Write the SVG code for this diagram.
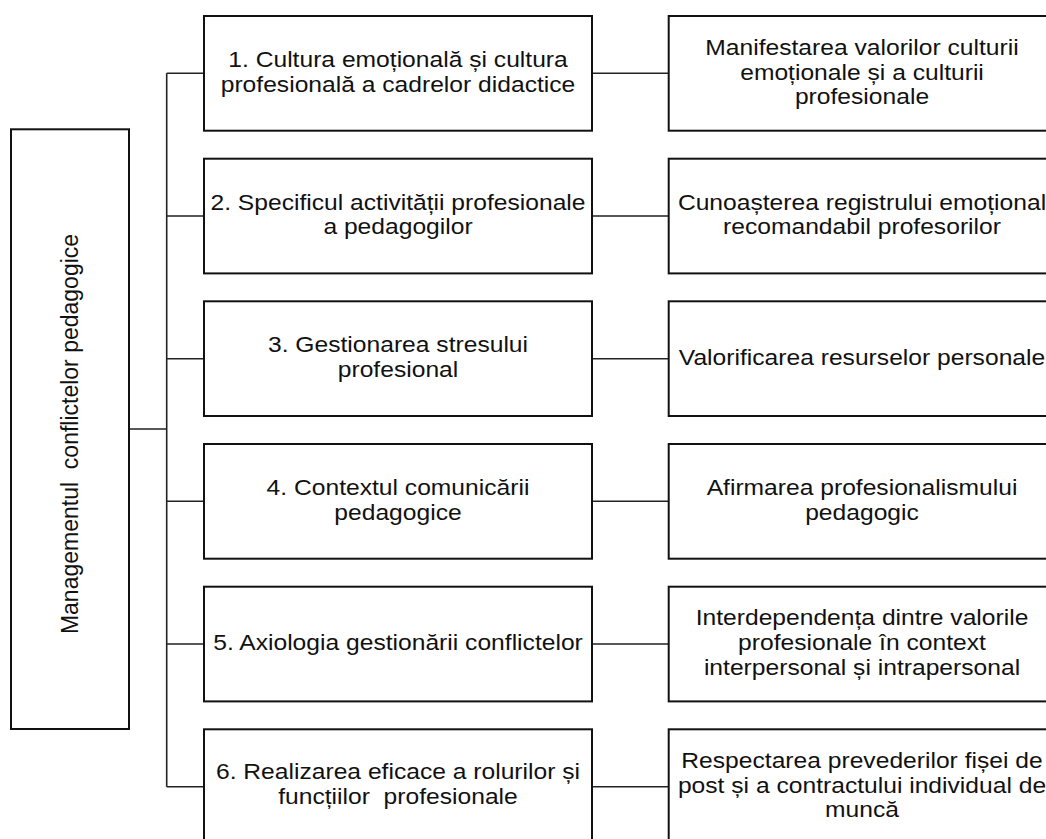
<svg xmlns="http://www.w3.org/2000/svg" width="1046" height="839" viewBox="0 0 1046 839">
<style>
.box{fill:#fff;stroke:#111;stroke-width:2}
.ln{fill:none;stroke:#222;stroke-width:1.6}
text{font-family:"Liberation Sans",Arial,sans-serif;font-size:22px;fill:#111;text-anchor:middle}
.v{font-size:23px}
</style>
<rect width="1046" height="839" fill="#fff"/>
<g id="connectors">
<path class="ln" d="M129,429H166.7M166.7,73.3V786.7M166.7,73.3H204M166.7,216H204M166.7,358.7H204M166.7,501.3H204M166.7,644H204M166.7,786.7H204"/>
<path class="ln" d="M592,73.3H668.7M592,216H668.7M592,358.7H668.7M592,501.3H668.7M592,644H668.7M592,786.7H668.7"/>
</g>
<g id="root">
<rect class="box" x="11" y="129.3" width="118" height="599.7"/>
<text class="v" transform="translate(78,434) rotate(-90)">Managementul&#160; conflictelor pedagogice</text>
</g>
<g id="m1"><rect class="box" x="204" y="16" width="388" height="114.7"/>
<g transform="translate(398,0) scale(1.12,1)"><text><tspan x="0" y="67">1. Cultura emoțională și cultura</tspan><tspan x="0" y="91.6">profesională a cadrelor didactice</tspan></text></g></g>
<g id="m2"><rect class="box" x="204" y="158.7" width="388" height="114.7"/>
<g transform="translate(398,0) scale(1.12,1)"><text><tspan x="0" y="209.7">2. Specificul activității profesionale</tspan><tspan x="0" y="234.3">a pedagogilor</tspan></text></g></g>
<g id="m3"><rect class="box" x="204" y="301.3" width="388" height="114.7"/>
<g transform="translate(398,0) scale(1.12,1)"><text><tspan x="0" y="352.4">3. Gestionarea stresului</tspan><tspan x="0" y="377">profesional</tspan></text></g></g>
<g id="m4"><rect class="box" x="204" y="444" width="388" height="114.7"/>
<g transform="translate(398,0) scale(1.12,1)"><text><tspan x="0" y="495">4. Contextul comunicării</tspan><tspan x="0" y="519.6">pedagogice</tspan></text></g></g>
<g id="m5"><rect class="box" x="204" y="586.7" width="388" height="114.7"/>
<g transform="translate(398,0) scale(1.12,1)"><text><tspan x="0" y="649.8">5. Axiologia gestionării conflictelor</tspan></text></g></g>
<g id="m6"><rect class="box" x="204" y="729.3" width="388" height="114.7"/>
<g transform="translate(398,0) scale(1.12,1)"><text><tspan x="0" y="779.4">6. Realizarea eficace a rolurilor și</tspan><tspan x="0" y="804">funcțiilor&#160; profesionale</tspan></text></g></g>
<g id="r1"><rect class="box" x="668.7" y="16" width="400" height="114.7"/>
<g transform="translate(862,0) scale(1.12,1)"><text><tspan x="0" y="55">Manifestarea valorilor culturii</tspan><tspan x="0" y="79.6">emoționale și a culturii</tspan><tspan x="0" y="104.2">profesionale</tspan></text></g></g>
<g id="r2"><rect class="box" x="668.7" y="158.7" width="400" height="114.7"/>
<g transform="translate(862,0) scale(1.12,1)"><text><tspan x="0" y="209.7">Cunoașterea registrului emoțional</tspan><tspan x="0" y="234.3">recomandabil profesorilor</tspan></text></g></g>
<g id="r3"><rect class="box" x="668.7" y="301.3" width="400" height="114.7"/>
<g transform="translate(862,0) scale(1.12,1)"><text><tspan x="0" y="364.7">Valorificarea resurselor personale</tspan></text></g></g>
<g id="r4"><rect class="box" x="668.7" y="444" width="400" height="114.7"/>
<g transform="translate(862,0) scale(1.12,1)"><text><tspan x="0" y="495">Afirmarea profesionalismului</tspan><tspan x="0" y="519.6">pedagogic</tspan></text></g></g>
<g id="r5"><rect class="box" x="668.7" y="586.7" width="400" height="114.7"/>
<g transform="translate(862,0) scale(1.12,1)"><text><tspan x="0" y="625.4">Interdependența dintre valorile</tspan><tspan x="0" y="650">profesionale în context</tspan><tspan x="0" y="674.6">interpersonal și intrapersonal</tspan></text></g></g>
<g id="r6"><rect class="box" x="668.7" y="729.3" width="400" height="114.7"/>
<g transform="translate(862,0) scale(1.12,1)"><text><tspan x="0" y="768.1">Respectarea prevederilor fișei de</tspan><tspan x="0" y="792.7">post și a contractului individual de</tspan><tspan x="0" y="817.3">muncă</tspan></text></g></g>
</svg>
